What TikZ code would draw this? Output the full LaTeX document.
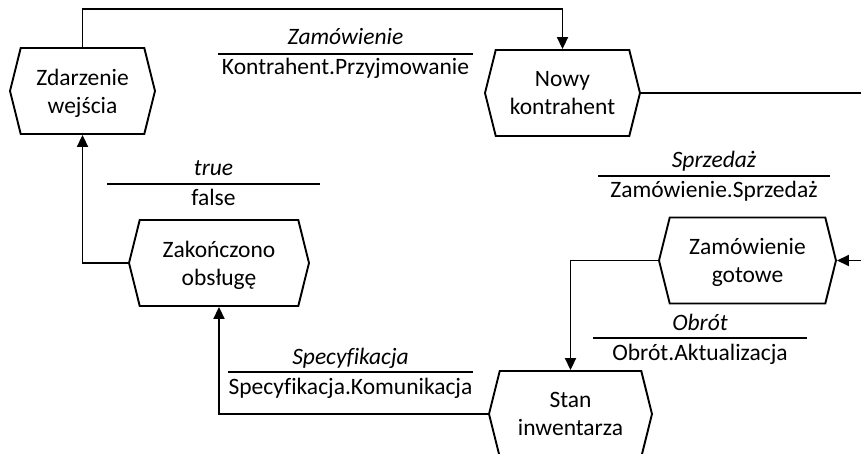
\documentclass[tikz,border=0pt]{standalone}
\usepackage{fontspec}
\setmainfont{Carlito}[Ligatures=NoCommon]
\usetikzlibrary{calc,arrows.meta,shapes.symbols}

\begin{document}
\begin{tikzpicture}[x=1pt,y=-1pt,
    every node/.style={font=\fontsize{23.5}{28}\selectfont},
    evt/.style={signal, signal to=west and east, signal pointer angle=152,
        draw, line width=1.9pt, minimum height=86pt, align=center, inner sep=0pt,
        text depth=-6pt},
    flow/.style={line width=1.9pt, -{Triangle[length=12pt,width=11pt]}},
    wire/.style={line width=1.9pt},
    rule/.style={line width=1.9pt},
    cond/.style={anchor=base, font=\fontsize{23.5}{28}\selectfont\itshape},
    act/.style={anchor=base}]
            \useasboundingbox (0,0) rectangle (861,454);
            % events
            \node[evt, minimum width=145pt] (zd) at (82.5,91) {Zdarzenie\\wejścia};
            \node[evt, minimum width=155pt] (nw) at (562.5,93) {Nowy\\kontrahent};
            \node[evt, minimum width=180pt] (zk) at (219,263) {Zakończono\\obsługę};
            \node[evt, minimum width=177pt] (zg) at (747.5,260.5) {Zamówienie\\gotowe};
            \node[evt, minimum width=163pt] (st) at (570.5,414) {Stan\\inwentarza};
            \coordinate (rtop) at (861,93);
            \coordinate (rmid) at (861,260.5);
            % flows
            \draw[flow] (zd.north) -- ++(0,-38) -| (nw.north);
            \draw[wire] (nw.east) -- (rtop);
            \draw[flow] (rmid) -- (zg.east);
            \draw[flow] (zg.west) -| (st.north);
            \draw[flow] (st.west) -| (zk.south);
            \draw[flow] (zk.west) -| (zd.south);
            % conditions
            \coordinate (l1) at (345.5,54);
            \coordinate (l2) at (213.5,184);
            \coordinate (l3) at (714,176);
            \coordinate (l4) at (700,338);
            \coordinate (l5) at (350.5,372);
            \draw[rule] ($(l1)+(-127.5,0)$) -- ($(l1)+(127.5,0)$);
            \draw[rule] ($(l2)+(-106.5,0)$) -- ($(l2)+(106.5,0)$);
            \draw[rule] ($(l3)+(-116,0)$) -- ($(l3)+(116,0)$);
            \draw[rule] ($(l4)+(-107,0)$) -- ($(l4)+(107,0)$);
            \draw[rule] ($(l5)+(-122.5,0)$) -- ($(l5)+(122.5,0)$);
            \node[cond] (l1a) at ($(l1)+(0,-9)$) {Zamówienie};
            \node[act]  (l1b) at ($(l1)+(0,21)$) {Kontrahent.Przyjmowanie};
            \node[cond] (l2a) at ($(l2)+(0,-8)$) {true};
            \node[act]  (l2b) at ($(l2)+(0,22)$) {false};
            \node[cond] (l3a) at ($(l3)+(0,-8)$) {Sprzedaż};
            \node[act]  (l3b) at ($(l3)+(0,22)$) {Zamówienie.Sprzedaż};
            \node[cond] (l4a) at ($(l4)+(0,-8)$) {Obrót};
            \node[act]  (l4b) at ($(l4)+(0,22)$) {Obrót.Aktualizacja};
            \node[cond] (l5a) at ($(l5)+(0,-8)$) {Specyfikacja};
            \node[act]  (l5b) at ($(l5)+(0,22)$) {Specyfikacja.Komunikacja};
\end{tikzpicture}
\end{document}
